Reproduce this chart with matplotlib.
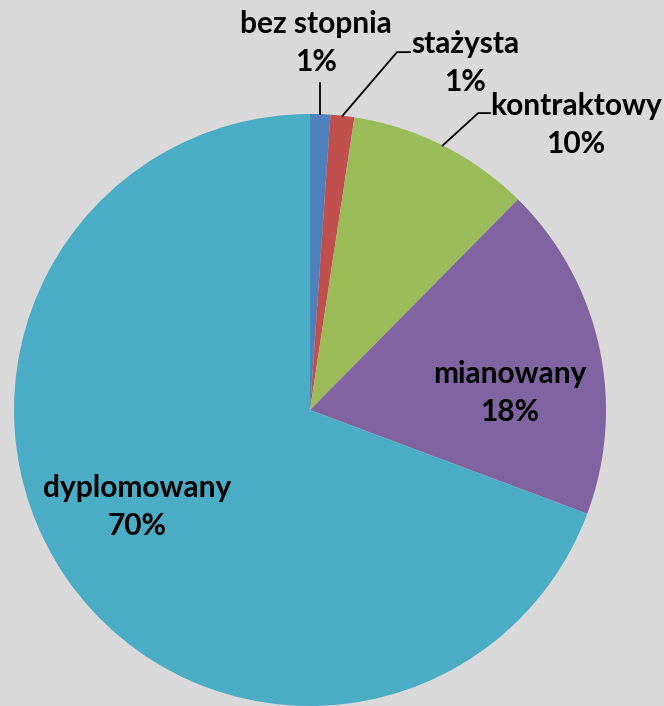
import numpy as np
import matplotlib
matplotlib.use("Agg")
import matplotlib.pyplot as plt

# Teachers by professional grade (share of total, %)
categories = ["bez stopnia", "stażysta", "kontraktowy", "mianowany", "dyplomowany"]
shares = [1.1, 1.3, 10.0, 18.3, 69.3]
pct_labels = ["1%", "1%", "10%", "18%", "70%"]
colors = ["#4F81BD", "#C0504D", "#9BBB59", "#8064A2", "#4BACC6"]
bg = "#D9D9D9"

plt.rcParams["font.family"] = ["Lato", "DejaVu Sans"]

fig = plt.figure(figsize=(6.64, 7.06), dpi=100, facecolor=bg)
ax = fig.add_axes([14 / 664, 0.0, 592 / 664, 592 / 706])
ax.set_facecolor(bg)

wedges, _ = ax.pie(shares, colors=colors, startangle=90, counterclock=False,
                   radius=1.0, wedgeprops=dict(linewidth=0))
ax.set_xlim(-1, 1)
ax.set_ylim(-1, 1)
ax.axis("off")

# label anchor (x centre, baseline of the name line) in axes data units
text_pos = {
    "bez stopnia": (0.02, 1.274),
    "stażysta": (0.524, 1.206),
    "kontraktowy": (0.899, 0.997),
    "mianowany": (0.676, 0.091),
    "dyplomowany": (-0.584, -0.294),
}
line_gap = 0.128
# leader line elbows for the small slices
elbows = {
    "bez stopnia": [(None, 1.105)],
    "stażysta": [(0.294, 1.209), (0.338, 1.209)],
    "kontraktowy": [(0.568, 1.003), (0.608, 1.003)],
}

for w, cat, pct in zip(wedges, categories, pct_labels):
    tx, ty = text_pos[cat]
    style = dict(ha="center", va="baseline", fontsize=21.5, fontweight="bold",
                 color="black", clip_on=False)
    ax.text(tx, ty, cat, **style)
    ax.text(tx, ty - line_gap, pct, **style)
    if cat in elbows:
        mid = np.deg2rad((w.theta1 + w.theta2) / 2)
        x0, y0 = np.cos(mid), np.sin(mid)
        xs, ys = [x0], [y0]
        for ex, ey in elbows[cat]:
            xs.append(x0 if ex is None else ex)
            ys.append(ey)
        ax.plot(xs, ys, color="black", lw=1.3, clip_on=False)

fig.savefig("out.png", dpi=100, facecolor=bg)
